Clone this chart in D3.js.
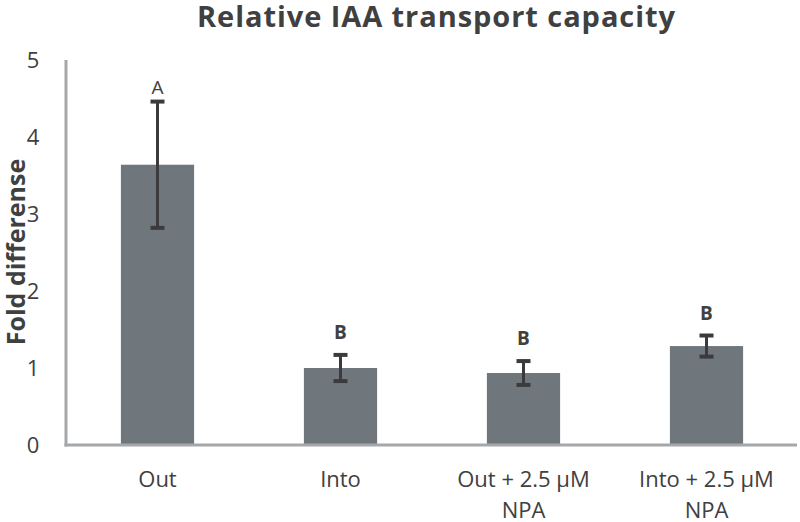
<!DOCTYPE html>
<html>
<head>
<meta charset="utf-8">
<script src="https://cdn.jsdelivr.net/npm/d3@7"></script>
<style>
  body { margin: 0; background: #fff; }
  svg text { font-family: "Open Sans", sans-serif; fill: #404040; }
</style>
</head>
<body>
<div id="chart"></div>
<script>
// data
var categories = [["Out"], ["Into"], ["Out + 2.5 \u00b5M", "NPA"], ["Into + 2.5 \u00b5M", "NPA"]];
var means = [3.64, 1.0, 0.935, 1.285];
var errors = [0.82, 0.17, 0.155, 0.137];
var letters = ["A", "B", "B", "B"];
var yTicks = [0, 1, 2, 3, 4, 5];

var width = 800, height = 522;
var margin = {top: 60, right: 2, bottom: 77, left: 66};

var svg = d3.select("#chart").append("svg")
  .attr("width", width)
  .attr("height", height);

var x = d3.scaleBand()
  .domain(d3.range(categories.length))
  .range([margin.left, width - margin.right])
  .paddingInner(0.6)
  .paddingOuter(0.3);

var y = d3.scaleLinear()
  .domain([0, 5])
  .range([height - margin.bottom, margin.top]);

// title
svg.append("text")
  .attr("x", 436)
  .attr("y", 27)
  .attr("text-anchor", "middle")
  .attr("textLength", 478)
  .attr("lengthAdjust", "spacing")
  .style("font-size", "29px")
  .style("font-weight", "bold")
  .text("Relative IAA transport capacity");

// y axis title
svg.append("text")
  .attr("transform", "translate(25," + 252 + ") rotate(-90)")
  .attr("text-anchor", "middle")
  .style("font-size", "25px")
  .style("font-weight", "bold")
  .text("Fold differense");

// tick labels
svg.selectAll(".ytick")
  .data(yTicks)
  .enter().append("text")
  .attr("class", "ytick")
  .attr("x", 33)
  .attr("y", function(d) { return y(d); })
  .attr("dy", "0.36em")
  .attr("text-anchor", "middle")
  .style("font-size", "22px")
  .text(function(d) { return d; });

// bars
svg.selectAll(".bar")
  .data(means)
  .enter().append("rect")
  .attr("class", "bar")
  .attr("x", function(d, i) { return x(i); })
  .attr("y", function(d) { return y(d); })
  .attr("width", x.bandwidth())
  .attr("height", function(d) { return y(0) - y(d); })
  .style("fill", "#70777c");

// axes lines
svg.append("line")
  .attr("x1", margin.left).attr("x2", margin.left)
  .attr("y1", y(5)).attr("y2", y(0) + 1.5)
  .style("stroke", "#a5a7aa").style("stroke-width", 3);
svg.append("line")
  .attr("x1", margin.left - 1.5).attr("x2", width - 3)
  .attr("y1", y(0)).attr("y2", y(0))
  .style("stroke", "#a5a7aa").style("stroke-width", 3);

// error bars
var eb = svg.selectAll(".err")
  .data(means)
  .enter().append("g")
  .attr("class", "err")
  .style("stroke", "#3b3b3d")
  .style("stroke-width", 3);
eb.append("line")
  .attr("x1", function(d, i) { return x(i) + x.bandwidth() / 2; })
  .attr("x2", function(d, i) { return x(i) + x.bandwidth() / 2; })
  .attr("y1", function(d, i) { return y(d + errors[i]); })
  .attr("y2", function(d, i) { return y(d - errors[i]); });
[1, -1].forEach(function(s) {
  eb.append("line")
    .attr("x1", function(d, i) { return x(i) + x.bandwidth() / 2 - 7; })
    .attr("x2", function(d, i) { return x(i) + x.bandwidth() / 2 + 7; })
    .attr("y1", function(d, i) { return y(d + s * errors[i]); })
    .attr("y2", function(d, i) { return y(d + s * errors[i]); })
    .style("stroke-width", 4);
});

// significance letters
svg.selectAll(".letter")
  .data(letters)
  .enter().append("text")
  .attr("class", "letter")
  .attr("x", function(d, i) { return x(i) + x.bandwidth() / 2; })
  .attr("y", function(d, i) { return y(means[i] + errors[i]) - (d == "A" ? 8 : 16); })
  .attr("text-anchor", "middle")
  .style("font-size", "19px")
  .style("font-weight", function(d) { return d == "A" ? "normal" : "bold"; })
  .text(function(d) { return d; });

// category labels
var lab = svg.selectAll(".xlab")
  .data(categories)
  .enter().append("text")
  .attr("class", "xlab")
  .attr("text-anchor", "middle")
  .attr("x", function(d, i) { return x(i) + x.bandwidth() / 2; })
  .attr("y", 487)
  .style("font-size", "22px");
lab.selectAll("tspan")
  .data(function(d, i) { return d.map(function(t) { return {t: t, i: i}; }); })
  .enter().append("tspan")
  .attr("x", function(d) { return x(d.i) + x.bandwidth() / 2; })
  .attr("dy", function(d, j) { return j == 0 ? 0 : 31; })
  .text(function(d) { return d.t; });
</script>
</body>
</html>
